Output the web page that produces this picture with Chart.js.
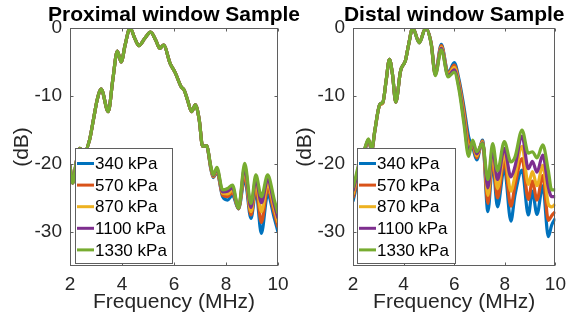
<!DOCTYPE html>
<html><head><meta charset="utf-8">
<script src="https://cdn.jsdelivr.net/npm/chart.js@4/dist/chart.umd.min.js"></script>
<style>
html,body{margin:0;padding:0;background:#fff;}
#wrap{position:relative;width:573px;height:332px;background:#fff;}
canvas{position:absolute;left:0;top:0;}
</style></head><body>
<div id="wrap"><canvas id="c1" width="573" height="332"></canvas><canvas id="c2" width="573" height="332"></canvas></div>
<script>
// ---------- DATA ----------
const seriesLabels = ['340 kPa', '570 kPa', '870 kPa', '1100 kPa', '1330 kPa'];
const xTickValues = [2, 4, 6, 8, 10];
const yTickValues = [0, -10, -20, -30];

const freqProximal = [2.0, 2.1, 2.25, 2.38, 2.55, 2.75, 2.9, 3.05, 3.2, 3.47, 3.65, 3.82, 3.97, 4.12, 4.31, 4.5, 4.65, 4.88, 5.1, 5.3, 5.45, 5.6, 5.85, 6.05, 6.27, 6.4, 6.52, 6.68, 6.82, 6.97, 7.1, 7.25, 7.42, 7.51, 7.65, 7.87, 8.06, 8.25, 8.48, 8.72, 8.96, 9.15, 9.36, 9.6, 9.86, 10.0];
const proximal340  = [-20.2, -22.8, -19.5, -17.7, -18.3, -16.5, -13.5, -10.5, -9.0, -12.3, -7.5, -3.4, -5.0, -2.5, 0, -1.6, -2.6, -1.5, -0.6, -1.8, -3.0, -2.5, -5.2, -6.6, -8.6, -9.2, -10.6, -12.3, -11.3, -13.5, -17.4, -17.3, -20.8, -22.0, -21.2, -24.8, -25.3, -24.6, -26.6, -22.2, -28.0, -24.0, -30.2, -24.5, -28.0, -30.0];
const proximal570  = [-20.2, -22.8, -19.5, -17.7, -18.3, -16.5, -13.5, -10.5, -9.0, -12.3, -7.5, -3.4, -5.0, -2.5, 0, -1.6, -2.6, -1.5, -0.6, -1.8, -3.0, -2.5, -5.2, -6.6, -8.6, -9.2, -10.6, -12.3, -11.3, -13.5, -17.4, -17.3, -20.7, -21.9, -21.0, -24.6, -24.8, -24.2, -26.6, -21.6, -27.5, -23.4, -28.6, -23.7, -27.3, -29.3];
const proximal870  = [-20.2, -22.8, -19.5, -17.7, -18.3, -16.5, -13.5, -10.5, -9.0, -12.3, -7.5, -3.4, -5.0, -2.5, 0, -1.6, -2.6, -1.5, -0.6, -1.8, -3.0, -2.5, -5.2, -6.6, -8.6, -9.2, -10.6, -12.3, -11.3, -13.5, -17.4, -17.3, -20.6, -21.8, -20.9, -24.3, -24.4, -23.8, -26.5, -21.0, -27.0, -22.8, -27.0, -23.0, -26.6, -28.6];
const proximal1100 = [-20.2, -22.8, -19.5, -17.7, -18.3, -16.5, -13.5, -10.5, -9.0, -12.3, -7.5, -3.4, -5.0, -2.5, 0, -1.6, -2.6, -1.5, -0.6, -1.8, -3.0, -2.5, -5.2, -6.6, -8.6, -9.2, -10.6, -12.3, -11.3, -13.5, -17.4, -17.3, -20.5, -21.7, -20.7, -24.1, -24.0, -23.5, -26.5, -20.5, -26.4, -22.2, -25.7, -22.3, -26.0, -28.0];
const proximal1330 = [-20.2, -22.8, -19.5, -17.7, -18.3, -16.5, -13.5, -10.5, -9.0, -12.3, -7.5, -3.4, -5.0, -2.5, 0, -1.6, -2.6, -1.5, -0.6, -1.8, -3.0, -2.5, -5.2, -6.6, -8.6, -9.2, -10.6, -12.3, -11.3, -13.5, -17.4, -17.3, -20.4, -21.6, -20.5, -23.8, -23.6, -23.1, -26.5, -19.9, -25.8, -21.6, -24.8, -21.6, -25.3, -27.3];

const freqDistal = [2.0, 2.1, 2.23, 2.48, 2.61, 2.74, 2.86, 3.06, 3.18, 3.31, 3.44, 3.56, 3.69, 3.88, 4.07, 4.2, 4.36, 4.62, 4.87, 5.09, 5.25, 5.49, 5.76, 6.0, 6.19, 6.38, 6.57, 6.73, 6.89, 7.12, 7.33, 7.52, 7.71, 7.98, 8.24, 8.4, 8.68, 8.93, 9.09, 9.27, 9.5, 9.72, 9.85, 10.0];
const distal340  = [-25.5, -23.8, -20.8, -17.9, -16.6, -18.1, -15.3, -11.3, -11.0, -7.8, -4.6, -6.8, -10.9, -6.3, -4.8, -2.4, 0, -2.1, 0, -2.2, -6.6, -2.4, -6.6, -5.1, -7.6, -11.5, -16.0, -17.5, -19.4, -16.5, -27.0, -20.0, -26.3, -20.6, -28.4, -24.6, -20.9, -27.5, -24.0, -27.4, -23.2, -30.7, -29.0, -28.0];
const distal570  = [-25.0, -23.4, -20.6, -17.8, -16.5, -18.0, -15.2, -11.3, -11.0, -7.8, -4.6, -6.8, -10.9, -6.3, -4.8, -2.4, 0, -2.1, 0, -2.25, -6.7, -2.6, -6.75, -5.45, -7.95, -12.1, -16.7, -17.25, -19.1, -16.6, -25.8, -19.25, -25.0, -19.6, -26.2, -23.2, -19.2, -25.2, -22.5, -25.3, -21.7, -28.3, -27.6, -27.0];
const distal870  = [-24.5, -22.9, -20.4, -17.7, -16.5, -18.0, -15.2, -11.3, -11.0, -7.7, -4.6, -6.8, -10.9, -6.3, -4.8, -2.4, 0, -2.1, 0, -2.3, -6.8, -2.8, -6.9, -5.8, -8.35, -12.75, -17.4, -17.0, -18.8, -16.75, -24.6, -18.5, -23.6, -18.6, -24.0, -21.8, -17.4, -23.0, -21.1, -23.2, -20.2, -25.9, -26.3, -25.9];
const distal1100 = [-24.0, -22.5, -20.2, -17.6, -16.4, -17.9, -15.1, -11.2, -10.9, -7.7, -4.6, -6.8, -10.9, -6.3, -4.8, -2.4, 0, -2.2, 0, -2.35, -6.9, -3.0, -7.05, -6.15, -8.7, -13.4, -18.2, -16.75, -18.5, -16.9, -23.5, -17.75, -22.3, -17.7, -21.9, -20.4, -15.9, -20.7, -19.6, -21.2, -18.7, -23.4, -24.8, -24.8];
const distal1330 = [-23.5, -22.0, -20.0, -17.5, -16.3, -17.8, -15.1, -11.2, -10.9, -7.7, -4.6, -6.8, -10.9, -6.3, -4.8, -2.4, 0, -2.2, 0, -2.4, -7.0, -3.2, -7.2, -6.5, -9.1, -14.0, -18.9, -16.5, -18.2, -17.0, -22.3, -17.0, -21.0, -16.7, -19.7, -19.0, -15.0, -18.4, -18.2, -19.1, -17.2, -21.0, -23.8, -23.8];

// ---------- STYLE ----------
const COLORS = ['#0072BD', '#D95319', '#EDB120', '#7E2F8E', '#77AC30'];
const FONT = '"Liberation Sans", Arial, Helvetica, sans-serif';
const AXIS_COLOR = '#262626';

const framePlugin = {
  id: 'frame',
  afterDatasetsDraw(chart, args, opts) {
    const {ctx, chartArea: a, scales: {x, y}} = chart;
    ctx.save();
    const L = Math.round(a.left) + 0.5, R = Math.round(a.right) - 0.5;
    const T = Math.round(a.top) + 0.5, B = Math.round(a.bottom) - 0.5;
    ctx.strokeStyle = '#5f5f5f';
    ctx.lineWidth = 1;
    ctx.strokeRect(L, T, R - L, B - T);
    ctx.beginPath();
    xTickValues.forEach(v => {
      const px = Math.round(x.getPixelForValue(v)) + 0.5;
      ctx.moveTo(px, B); ctx.lineTo(px, B - 3);
      ctx.moveTo(px, T); ctx.lineTo(px, T + 3);
    });
    yTickValues.forEach(v => {
      const py = Math.round(y.getPixelForValue(v)) + 0.5;
      ctx.moveTo(L, py); ctx.lineTo(L + 3, py);
      ctx.moveTo(R, py); ctx.lineTo(R - 3, py);
    });
    ctx.stroke();

    // title
    const cx = (a.left + a.right) / 2;
    ctx.fillStyle = '#000';
    ctx.font = 'bold 21px ' + FONT;
    ctx.textAlign = 'center';
    ctx.textBaseline = 'alphabetic';
    ctx.fillText(opts.title, cx, 21);

    // axis labels
    ctx.fillStyle = AXIS_COLOR;
    ctx.font = '21px ' + FONT;
    ctx.textBaseline = 'middle';
    ctx.fillText('Frequency (MHz)', cx, 302);
    ctx.save();
    ctx.translate(a.left - 48, (a.top + a.bottom) / 2);
    ctx.rotate(-Math.PI / 2);
    ctx.fillText('(dB)', 0, 0);
    ctx.restore();

    // legend
    const lx = a.left + opts.legendDx, ly = 148, lw = opts.legendW, lh = 115;
    ctx.fillStyle = '#fff';
    ctx.fillRect(lx, ly, lw, lh);
    ctx.strokeStyle = '#5f5f5f';
    ctx.strokeRect(Math.round(lx) + 0.5, ly + 0.5, lw, lh);
    ctx.font = '17px ' + FONT;
    ctx.textAlign = 'left';
    ctx.textBaseline = 'middle';
    chart.data.datasets.forEach((ds, i) => {
      const ry = 163.5 + i * 21.6;
      ctx.strokeStyle = ds.borderColor;
      ctx.lineWidth = 3;
      ctx.beginPath();
      ctx.moveTo(lx + 2, ry); ctx.lineTo(lx + 19, ry);
      ctx.stroke();
      ctx.fillStyle = '#000';
      ctx.fillText(ds.label, lx + 20, ry + 1);
    });
    ctx.restore();
  }
};

function makeChart(id, freq, series, title, area, legendDx, legendW) {
  const datasets = series.map((vals, i) => ({
    label: seriesLabels[i],
    data: freq.map((f, k) => ({x: f, y: vals[k]})),
    borderColor: COLORS[i],
    backgroundColor: COLORS[i],
    borderWidth: 3.2,
    pointRadius: 0,
    cubicInterpolationMode: 'monotone',
    fill: false,
    order: series.length - 1 - i
  }));
  return new Chart(document.getElementById(id), {
    type: 'line',
    data: {datasets},
    plugins: [framePlugin],
    options: {
      responsive: false,
      animation: false,
      devicePixelRatio: 1,
      layout: {padding: {left: 0, right: 573 - area.right, top: area.top, bottom: 0}},
      plugins: {
        legend: {display: false},
        tooltip: {enabled: false},
        frame: {title, legendDx, legendW}
      },
      scales: {
        x: {
          type: 'linear', min: 2, max: 10,
          afterBuildTicks: s => { s.ticks = xTickValues.map(v => ({value: v})); },
          afterFit: s => { s.height = 332 - area.bottom; },
          ticks: {font: {family: FONT, size: 19}, color: AXIS_COLOR, padding: 7, maxRotation: 0, autoSkip: false, callback: v => String(v)},
          grid: {display: false, drawTicks: false},
          border: {display: false}
        },
        y: {
          type: 'linear', min: -35, max: 0,
          afterBuildTicks: s => { s.ticks = yTickValues.map(v => ({value: v})); },
          afterFit: s => { s.width = area.left; },
          ticks: {font: {family: FONT, size: 19}, color: AXIS_COLOR, padding: 8, autoSkip: false, callback: v => String(v)},
          grid: {display: false, drawTicks: false},
          border: {display: false}
        }
      }
    }
  });
}

makeChart('c1', freqProximal, [proximal340, proximal570, proximal870, proximal1100, proximal1330],
  'Proximal window Sample', {left: 70, right: 278, top: 28, bottom: 266}, 5, 97);
makeChart('c2', freqDistal, [distal340, distal570, distal870, distal1100, distal1330],
  'Distal window Sample', {left: 353, right: 563, top: 28, bottom: 266}, 4, 98);
</script>
</body></html>
